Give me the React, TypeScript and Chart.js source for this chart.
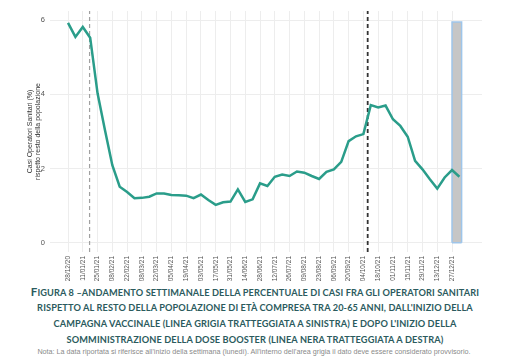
import React, { useEffect, useRef } from "react";
import { Chart, registerables } from "chart.js";

Chart.register(...registerables);

const weeks: string[] = [
  "28/12/20", "04/01/21", "11/01/21", "18/01/21", "25/01/21", "01/02/21", "08/02/21", "15/02/21",
  "22/02/21", "01/03/21", "08/03/21", "15/03/21", "22/03/21", "29/03/21", "05/04/21", "12/04/21",
  "19/04/21", "26/04/21", "03/05/21", "10/05/21", "17/05/21", "24/05/21", "31/05/21", "07/06/21",
  "14/06/21", "21/06/21", "28/06/21", "05/07/21", "12/07/21", "19/07/21", "26/07/21", "02/08/21",
  "09/08/21", "16/08/21", "23/08/21", "30/08/21", "06/09/21", "13/09/21", "20/09/21", "27/09/21",
  "04/10/21", "11/10/21", "18/10/21", "25/10/21", "01/11/21", "08/11/21", "15/11/21", "22/11/21",
  "29/11/21", "06/12/21", "13/12/21", "20/12/21", "27/12/21", "03/01/22",
];

const percentValues: number[] = [
  5.93, 5.55, 5.82, 5.53, 4.03, 3.04, 2.09, 1.51, 1.37, 1.2, 1.21, 1.24, 1.33, 1.33,
  1.29, 1.28, 1.27, 1.2, 1.3, 1.15, 1.02, 1.09, 1.11, 1.44, 1.1, 1.17, 1.6, 1.53,
  1.78, 1.84, 1.8, 1.92, 1.89, 1.8, 1.72, 1.91, 1.98, 2.18, 2.74, 2.87, 2.93, 3.71,
  3.65, 3.7, 3.33, 3.15, 2.86, 2.21, 1.98, 1.71, 1.46, 1.76, 1.96, 1.78,
];

const yTicks: number[] = [0, 2, 4, 6];
const vaccineStart = 2.92; // week index of grey dashed line
const boosterStart = 40.58; // week index of black dashed line
const provisionalFrom = 52;
const provisionalTo = 53.3;
const provisionalTop = 5.95;
const yMin = -0.25;
const yMax = 6.25;
const xMin = -2.44;
const xMax = 56.06;

const captionLines: string[] = [
  "IGURA 8 –ANDAMENTO SETTIMANALE DELLA PERCENTUALE DI CASI FRA GLI OPERATORI SANITARI",
  "RISPETTO AL RESTO DELLA POPOLAZIONE DI ETÀ COMPRESA TRA 20-65 ANNI, DALL'INIZIO DELLA",
  "CAMPAGNA VACCINALE (LINEA GRIGIA TRATTEGGIATA A SINISTRA) E DOPO L'INIZIO DELLA",
  "SOMMINISTRAZIONE DELLA DOSE BOOSTER (LINEA NERA TRATTEGGIATA A DESTRA)",
];
const noteText =
  "Nota: La data riportata si riferisce all'inizio della settimana (lunedì). All'interno dell'area grigia il dato deve essere considerato provvisorio.";

export default function App() {
  const canvasRef = useRef<HTMLCanvasElement | null>(null);

  useEffect(() => {
    const canvas = canvasRef.current;
    if (!canvas) return;
    const chart = new Chart(canvas, {
      type: "line",
      data: {
        datasets: [
          {
            data: percentValues.map((v, i) => ({ x: i, y: v })),
            borderColor: "#2a9d8a",
            borderWidth: 2.5,
            pointRadius: 0,
            tension: 0,
            fill: false,
          },
          {
            data: [
              { x: boosterStart, y: yMin },
              { x: boosterStart, y: yMax },
            ],
            borderColor: "#333333",
            borderWidth: 1.8,
            borderDash: [4, 3],
            pointRadius: 0,
            fill: false,
          },
          {
            data: [
              { x: vaccineStart, y: yMin },
              { x: vaccineStart, y: yMax },
            ],
            borderColor: "#a0a0a0",
            borderWidth: 1.2,
            borderDash: [4, 3],
            pointRadius: 0,
            fill: false,
          },
          {
            data: [
              { x: provisionalFrom, y: 0 },
              { x: provisionalTo, y: 0 },
            ],
            borderColor: "#9ec5ea",
            borderWidth: 1.5,
            pointRadius: 0,
            fill: false,
          },
          {
            data: [
              { x: provisionalFrom, y: 0 },
              { x: provisionalFrom, y: provisionalTop },
              { x: provisionalTo, y: provisionalTop },
              { x: provisionalTo, y: 0 },
            ],
            borderColor: "#9ec5ea",
            backgroundColor: "#c6c6c6",
            borderWidth: 1.5,
            pointRadius: 0,
            fill: { target: "origin" },
          },
        ],
      },
      options: {
        responsive: false,
        animation: false,
        devicePixelRatio: 1,
        layout: { padding: { left: 0, right: 8, top: 11, bottom: 0 } },
        plugins: {
          legend: { display: false },
          tooltip: { enabled: false },
          filler: { propagate: false },
        },
        scales: {
          x: {
            type: "linear",
            min: xMin,
            max: xMax,
            afterBuildTicks: (s: any) => {
              s.ticks = weeks
                .map((_, i) => i)
                .filter((i) => i % 2 === 0)
                .map((i) => ({ value: i }));
            },
            afterFit: (s: any) => {
              s.height = 32;
            },
            ticks: {
              autoSkip: false,
              maxRotation: 90,
              minRotation: 90,
              padding: 4,
              color: "#555555",
              font: { family: "Liberation Sans", size: 6.5 },
              callback: (v: any) => weeks[Math.round(Number(v))] ?? "",
            },
            grid: { color: "#ededed", lineWidth: 1, drawTicks: false },
            border: { display: false },
          },
          y: {
            type: "linear",
            min: yMin,
            max: yMax,
            afterBuildTicks: (s: any) => {
              s.ticks = yTicks.map((v) => ({ value: v }));
            },
            afterFit: (s: any) => {
              s.width = 50;
            },
            ticks: {
              padding: 5,
              color: "#555555",
              font: { family: "Liberation Sans", size: 7.5 },
              callback: (v: any) => String(v),
            },
            grid: { color: "#ededed", lineWidth: 1, drawTicks: false },
            border: { display: false },
            title: {
              display: true,
              text: ["Casi Operatori Sanitari (%)", "rispetto resto della popolazione"],
              color: "#333333",
              font: { family: "Liberation Sans", size: 7, lineHeight: 1.15 },
              padding: { top: 26, bottom: 0 },
            },
          },
        },
      },
    });
    return () => chart.destroy();
  }, []);

  const captionTop = [286, 302, 318, 334];

  return (
    <div
      style={{
        position: "fixed",
        left: 0,
        top: 0,
        width: 507,
        height: 362,
        background: "#ffffff",
        overflow: "hidden",
      }}
    >
      <canvas
        ref={canvasRef}
        width={490}
        height={284}
        style={{ position: "absolute", left: 0, top: 0, width: 490, height: 284 }}
      />
      {captionLines.map((line, i) => (
        <div
          key={i}
          style={{
            position: "absolute",
            left: 0,
            width: 510,
            top: captionTop[i],
            textAlign: "center",
            fontFamily: "Lato, 'Noto Sans', sans-serif",
            fontWeight: 700,
            fontSize: 9.2,
            letterSpacing: 0.12,
            lineHeight: "12px",
            color: "#2b5b5e",
            whiteSpace: "nowrap",
          }}
        >
          {i === 0 ? <span style={{ fontSize: 11.5 }}>F</span> : null}
          {line}
        </div>
      ))}
      <div
        style={{
          position: "absolute",
          left: 0,
          width: 508,
          top: 347,
          textAlign: "center",
          fontFamily: "'Liberation Sans', sans-serif",
          fontSize: 7.2,
          lineHeight: "10px",
          color: "#8a8a8a",
          whiteSpace: "nowrap",
        }}
      >
        {noteText}
      </div>
    </div>
  );
}
